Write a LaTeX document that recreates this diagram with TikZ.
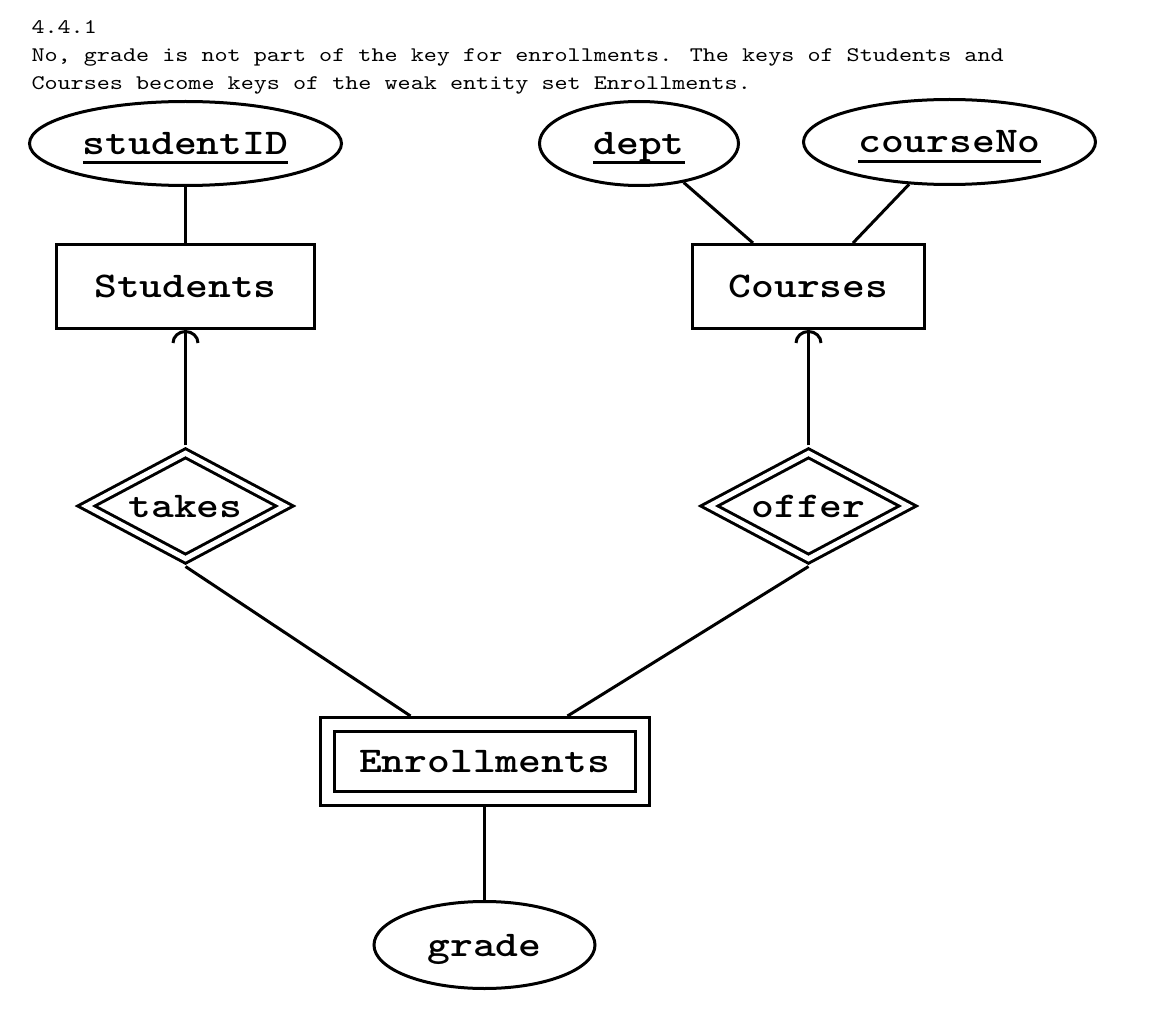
\documentclass[tikz,border=0pt]{standalone}
\usepackage{fontspec}
\newfontfamily\hdrfont{lmmono10-regular.otf}[FakeStretch=1.2]
\newfontfamily\erfont{lmmonolt10-bold.otf}[FakeStretch=1.2]
\usetikzlibrary{shapes.geometric,arrows.meta}
\newcommand\keyul[1]{\sbox0{#1}\rlap{\rule[-10pt]{\wd0}{3pt}}\usebox0}

\begin{document}
\begin{tikzpicture}[x=1pt, y=-1pt, line width=3pt, >={Arc Barb[width=28pt,length=13pt]},
	hdr/.style={anchor=base west, inner sep=0pt, font=\hdrfont\fontsize{20.76}{28}\selectfont},
	er/.style={draw, inner sep=2pt, font=\erfont\fontsize{36.2}{44}\selectfont, text height=22pt, text depth=0pt},
	attr/.style={er, ellipse},
	entity/.style={er, rectangle},
	rel/.style={er, diamond, aspect=2, double, double distance=5pt, outer sep=5.5pt, minimum width=203pt, minimum height=110pt},
	weak/.style={er, rectangle, double, double distance=11pt, outer sep=8.5pt, minimum width=315pt, minimum height=74pt}]
	\useasboundingbox (0,0) rectangle (1149,1035);
	\node[hdr] (h1) at (30,34) {4.4.1};
	\node[hdr] (h2) at (30,62) {No, grade is not part of the key for enrollments. The keys of Students and};
	\node[hdr] (h3) at (30,90) {Courses become keys of the weak entity set Enrollments.};
	\node[attr, minimum width=312pt, minimum height=84pt] (sid) at (185.5,143.5) {\keyul{studentID}};
	\node[entity, minimum width=258pt, minimum height=84pt] (students) at (185.5,286.5) {Students};
	\node[attr, minimum width=199pt, minimum height=84pt] (dept) at (639,143.5) {\keyul{dept}};
	\node[attr, minimum width=292pt, minimum height=85pt] (cno) at (949.5,142) {\keyul{courseNo}};
	\node[entity, minimum width=232pt, minimum height=84pt] (courses) at (808.5,286.5) {Courses};
	\node[rel] (takes) at (185.5,506) {takes};
	\node[rel] (offer) at (808.5,506) {offer};
	\node[weak] (enrol) at (484.5,761.5) {Enrollments};
	\node[attr, minimum width=221pt, minimum height=87pt] (grade) at (484.5,945) {grade};
	\draw (sid) -- (students);
	\draw (dept) -- ([xshift=-55.5pt]courses.north);
	\draw (cno) -- ([xshift=44.5pt]courses.north);
	\draw[->] (takes) -- (students);
	\draw[->] (offer) -- (courses);
	\draw (takes.south) -- ([xshift=-74pt]enrol.north);
	\draw (offer.south) -- ([xshift=83pt]enrol.north);
	\draw (enrol) -- (grade);
\end{tikzpicture}
\end{document}
